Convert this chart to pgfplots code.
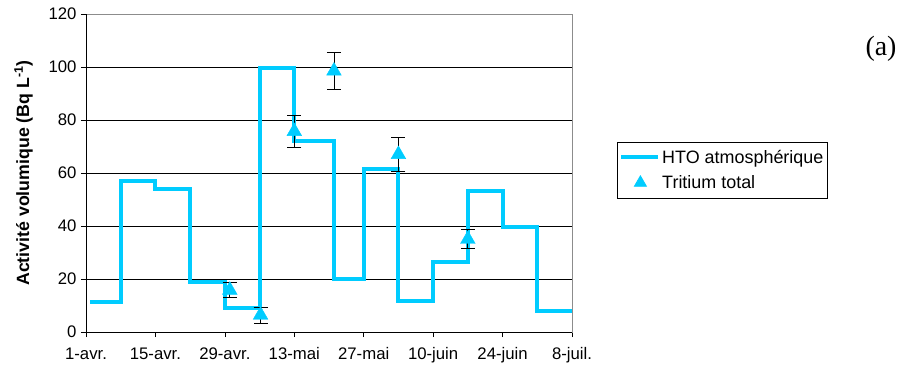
\documentclass[border=0pt]{standalone}
\usepackage{pgfplots}
\pgfplotsset{compat=1.18}
\usepackage{fontspec}
\setmainfont{Liberation Sans}
\newfontfamily\serifa{Liberation Serif}
\definecolor{hto}{RGB}{0,204,255}
\begin{document}
\begin{tikzpicture}
\useasboundingbox (-86bp,-44bp) rectangle (814bp,332bp);
\begin{axis}[
  at={(0,0)}, anchor=south west,
  scale only axis, width=486bp, height=318bp,
  xmin=0, xmax=98, ymin=0, ymax=120,
  xtick={0,14,28,42,56,70,84,98},
  xticklabels={1-avr.,15-avr.,29-avr.,13-mai,27-mai,10-juin,24-juin,8-juil.},
  ytick={0,20,...,120},
  ymajorgrids, grid style={black, line width=0.7bp},
  axis line style={draw=gray!90, line width=0.9bp},
  tick style={black, line width=0.7bp},
  tick align=outside, major tick length=5bp,
  xtick pos=bottom, ytick pos=left,
  /pgf/number format/assume math mode=true,
  tick label style={font=\fontsize{16.8}{19}\selectfont},
  xticklabel style={yshift=-7bp},
  yticklabel style={xshift=-1bp},
  ylabel={\textbf{Activité volumique (Bq L\textsuperscript{-1})}},
  ylabel style={font=\fontsize{17.8}{20}\selectfont, yshift=9bp},
  legend style={at={(1.0926,0.599)}, anchor=north west, draw=black, line width=0.8bp,
     font=\fontsize{18}{22}\selectfont, inner xsep=2bp, inner ysep=6bp, row sep=7bp},
  legend cell align=left,
  clip=false,
]
\addplot[const plot, color=hto, line width=4bp, line join=miter,
  legend image code/.code={\draw[hto, line width=4bp] (0cm,0cm) -- (1.3cm,0cm);}]
coordinates {
(0.8,11.2) (7,57) (14,53.8) (21,18.9) (28,8.9) (35,99.5) (42,72.2) (50,20)
(56,61.4) (63,11.8) (70,26.4) (77,53.3) (84,39.7) (91,8) (98,8)
};
\addlegendentry{HTO atmosphérique}
\addplot[only marks, mark=triangle*, mark size=8.5bp, color=hto,
  mark options={fill=hto, draw=hto},
  legend image code/.code={\draw[hto, fill=hto, mark=triangle*, mark size=7bp] plot coordinates {(0.67cm,0cm)};},
  error bars/.cd, y dir=both, y explicit,
  error bar style={black, line width=0.8bp},
  error mark options={rotate=90, mark size=7bp, black, line width=0.8bp}]
coordinates {
(29,15.8) +- (0,2.9)
(35.2,6.4) +- (0,3.0)
(42,75.7) +- (0,6.2)
(50,98.5) +- (0,6.9)
(63,67) +- (0,6.3)
(77,35) +- (0,3.6)
};
\addlegendentry{Tritium total}
\draw[black, line width=0.9bp] (rel axis cs:0,0) -- (rel axis cs:0,1);
\draw[black, line width=0.9bp] (rel axis cs:0,0) -- (rel axis cs:1,0);
\end{axis}
\node[font=\serifa\fontsize{28}{30}\selectfont] at (795bp,283bp) {(a)};
\end{tikzpicture}
\end{document}
